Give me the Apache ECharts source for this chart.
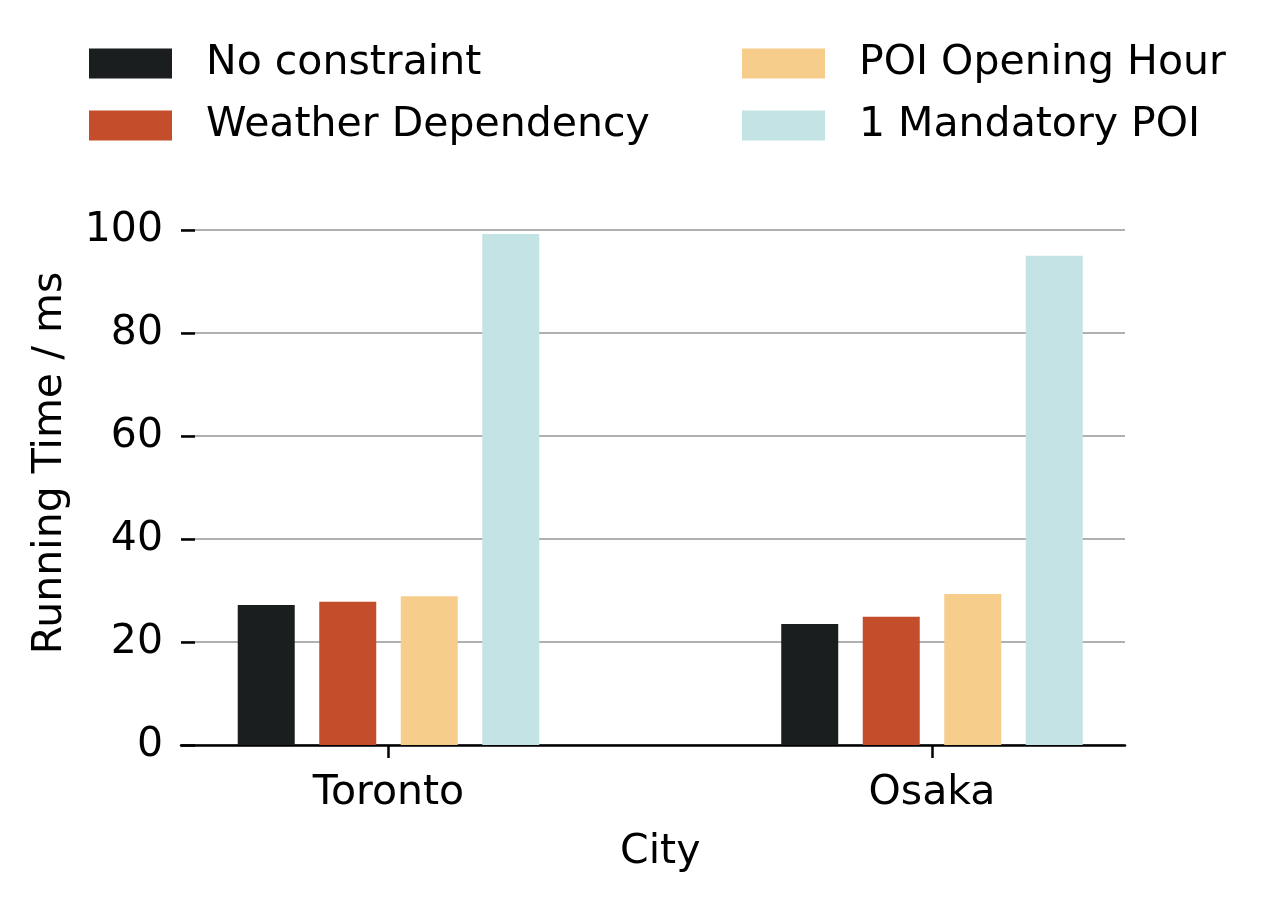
<!DOCTYPE html>
<html>
<head>
<meta charset="utf-8">
<script src="https://cdn.jsdelivr.net/npm/echarts@6/dist/echarts.min.js"></script>
<style>
html,body{margin:0;padding:0;background:#fff;}
#chart{width:1278px;height:901px;}
</style>
</head>
<body>
<div id="chart"></div>
<script>
const cities = ['Toronto', 'Osaka'];
const seriesNames = ['No constraint', 'Weather Dependency', 'POI Opening Hour', '1 Mandatory POI'];
const noConstraint = [27.2, 23.5];
const weatherDependency = [27.8, 24.9];
const poiOpeningHour = [28.9, 29.3];
const mandatoryPoi = [99.2, 95.0];
const yTicks = [0, 20, 40, 60, 80, 100];
const colors = ['#1b1e1e', '#c44d2b', '#f7cd8c', '#c4e3e5'];

const values = [noConstraint, weatherDependency, poiOpeningHour, mandatoryPoi];
const FONT = 'DejaVu Sans';
const FS = 41;

// grid B (visible axes): top 230 -> 100, bottom 745 -> 0
const pxPerUnit = (745 - 230) / yTicks[yTicks.length - 1];
const gridATop = 181;
const gridAMax = (745 - gridATop) / pxPerUnit;

const chart = echarts.init(document.getElementById('chart'), null, {renderer: 'canvas'});
const legendCommon = {
  orient: 'vertical', top: 43, padding: 0,
  itemWidth: 83, itemHeight: 30, itemGap: 21, icon: 'rect',
  textStyle: {fontFamily: FONT, fontSize: FS, color: '#000', padding: [0, 0, 0, 29]}
};
const option = {
  animation: false,
  backgroundColor: '#ffffff',
  textStyle: {fontFamily: FONT},
  legend: [
    Object.assign({data: seriesNames.slice(0, 2), left: 89}, legendCommon),
    Object.assign({data: seriesNames.slice(2, 4), left: 742}, legendCommon)
  ],
  grid: [
    {left: 116.75, right: 74.25, top: gridATop, bottom: 156, containLabel: false},
    {left: 181, right: 153, top: 230, bottom: 156, containLabel: false}
  ],
  xAxis: [
    {
      type: 'category', gridIndex: 0, data: cities,
      axisLine: {show: false},
      axisTick: {show: true, alignWithLabel: true, length: 13, lineStyle: {color: '#000', width: 2.5}},
      axisLabel: {fontFamily: FONT, fontSize: FS, color: '#000', margin: 28},
      name: 'City', nameLocation: 'middle', nameGap: 87,
      nameTextStyle: {fontFamily: FONT, fontSize: FS, color: '#000'}
    },
    {
      type: 'value', gridIndex: 1, min: 0, max: 1,
      axisLine: {show: true, onZero: false, lineStyle: {color: '#000', width: 2.5}},
      axisTick: {show: false}, axisLabel: {show: false}, splitLine: {show: false}
    }
  ],
  yAxis: [
    {
      type: 'value', gridIndex: 0, min: 0, max: gridAMax,
      axisLine: {show: false}, axisTick: {show: false}, axisLabel: {show: false}, splitLine: {show: false},
      name: 'Running Time / ms', nameLocation: 'middle', nameGap: 46,
      nameTextStyle: {fontFamily: FONT, fontSize: FS, color: '#000'}
    },
    {
      type: 'value', gridIndex: 1, min: yTicks[0], max: yTicks[yTicks.length - 1], interval: 20,
      axisLine: {show: false},
      axisTick: {show: true, inside: true, length: 14, lineStyle: {color: '#000', width: 2.5}},
      axisLabel: {fontFamily: FONT, fontSize: FS, color: '#000', margin: 18},
      splitLine: {show: true, lineStyle: {color: '#b0b0b0', width: 2}}
    }
  ],
  series: seriesNames.map((name, i) => ({
    name: name, type: 'bar', xAxisIndex: 0, yAxisIndex: 0,
    data: values[i], barWidth: 57, barGap: '43%',
    itemStyle: {color: colors[i]}, z: 1
  }))
};
chart.setOption(option);
</script>
</body>
</html>
